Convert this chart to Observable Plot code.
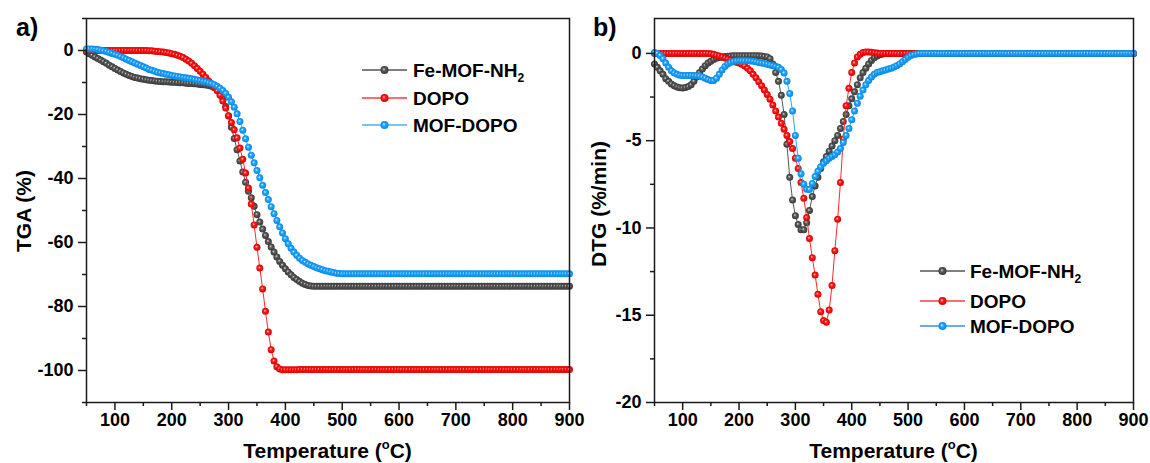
<!DOCTYPE html>
<html><head><meta charset="utf-8">
<script src="https://cdn.jsdelivr.net/npm/d3@7"></script>
<script src="https://cdn.jsdelivr.net/npm/@observablehq/plot@0.6"></script>
<style>
body{margin:0;background:#fff;}
#wrap{position:relative;width:1150px;height:463px;overflow:hidden;font-family:"Liberation Sans",Arial,sans-serif;background:#fff;}
#left,#right{position:absolute;top:0;overflow:visible;}
#left{left:0;} #right{left:580px;}
#left svg,#right svg{overflow:visible;}
</style></head><body>
<svg width="0" height="0" style="position:absolute">
<defs>
<radialGradient id="gGray" cx="0.5" cy="0.5" r="0.5" fx="0.4" fy="0.38">
<stop offset="0" stop-color="#d8d8d8"/><stop offset="0.4" stop-color="#5c5c5c"/><stop offset="1" stop-color="#383838"/>
</radialGradient>
<radialGradient id="gRed" cx="0.5" cy="0.5" r="0.5" fx="0.4" fy="0.38">
<stop offset="0" stop-color="#ffd0d0"/><stop offset="0.4" stop-color="#ff1c1c"/><stop offset="1" stop-color="#d80000"/>
</radialGradient>
<radialGradient id="gBlue" cx="0.5" cy="0.5" r="0.5" fx="0.4" fy="0.38">
<stop offset="0" stop-color="#dff3ff"/><stop offset="0.4" stop-color="#22a8ff"/><stop offset="1" stop-color="#0a86e0"/>
</radialGradient>
</defs>
</svg>
<div id="wrap"><div id="left"></div><div id="right"></div></div>
<script>
const seriesNames = ["Fe-MOF-NH2", "DOPO", "MOF-DOPO"];

const temperature = [
50,55,60,65,70,75,80,85,90,95,
100,105,110,115,120,125,130,135,140,145,
150,155,160,165,170,175,180,185,190,195,
200,205,210,215,220,225,230,235,240,245,
250,255,260,265,270,275,280,285,290,295,
300,305,310,315,320,325,330,335,340,345,
350,355,360,365,370,375,380,385,390,395,
400,405,410,415,420,425,430,435,440,445,
450,455,460,465,470,475,480,485,490,495,
500,505,510,515,520,525,530,535,540,545,
550,555,560,565,570,575,580,585,590,595,
600,605,610,615,620,625,630,635,640,645,
650,655,660,665,670,675,680,685,690,695,
700,705,710,715,720,725,730,735,740,745,
750,755,760,765,770,775,780,785,790,795,
800,805,810,815,820,825,830,835,840,845,
850,855,860,865,870,875,880,885,890,895,
900];

const tgaFeMOF = [
-0.5,-1.0,-1.5,-2.0,-2.5,-3.0,-3.5,-4.0,-4.6,-5.1,
-5.6,-6.1,-6.6,-7.0,-7.4,-7.8,-8.1,-8.4,-8.6,-8.8,
-9.0,-9.15,-9.3,-9.4,-9.5,-9.6,-9.7,-9.75,-9.8,-9.85,
-9.9,-9.95,-10.0,-10.05,-10.1,-10.2,-10.3,-10.35,-10.4,-10.5,
-10.6,-10.7,-10.8,-10.95,-11.2,-11.6,-12.2,-13.3,-15.0,-17.5,
-20.5,-24.0,-27.5,-31.0,-34.5,-38.0,-41.2,-44.0,-46.0,-48.7,
-51.3,-53.6,-55.8,-57.8,-59.7,-61.4,-63.0,-64.5,-65.9,-67.1,
-68.2,-69.2,-70.1,-70.9,-71.6,-72.2,-72.7,-73.1,-73.4,-73.6,
-73.7,-73.7,-73.7,-73.7,-73.7,-73.7,-73.7,-73.7,-73.7,-73.7,
-73.7,-73.7,-73.7,-73.7,-73.7,-73.7,-73.7,-73.7,-73.7,-73.7,
-73.7,-73.7,-73.7,-73.7,-73.7,-73.7,-73.7,-73.7,-73.7,-73.7,
-73.7,-73.7,-73.7,-73.7,-73.7,-73.7,-73.7,-73.7,-73.7,-73.7,
-73.7,-73.7,-73.7,-73.7,-73.7,-73.7,-73.7,-73.7,-73.7,-73.7,
-73.7,-73.7,-73.7,-73.7,-73.7,-73.7,-73.7,-73.7,-73.7,-73.7,
-73.7,-73.7,-73.7,-73.7,-73.7,-73.7,-73.7,-73.7,-73.7,-73.7,
-73.7,-73.7,-73.7,-73.7,-73.7,-73.7,-73.7,-73.7,-73.7,-73.7,
-73.7,-73.7,-73.7,-73.7,-73.7,-73.7,-73.7,-73.7,-73.7,-73.7,
-73.7];

const tgaDOPO = [
0,0,0,0,0,0,0,0,0,0,
0,0,0,0,0,0,0,0,0,0,
0,0,-0.05,-0.1,-0.2,-0.3,-0.4,-0.5,-0.6,-0.8,
-1.0,-1.2,-1.5,-1.8,-2.2,-2.7,-3.3,-4.0,-4.8,-5.6,
-6.5,-7.4,-8.4,-9.5,-10.6,-11.6,-12.6,-14.0,-15.8,-18.0,
-20.4,-22.5,-24.8,-27.3,-30.5,-34.0,-38.3,-43.0,-48.0,-54.5,
-61.5,-68.0,-74.5,-81.5,-88.0,-93.5,-97.0,-98.8,-99.5,-99.8,
-99.8,-99.8,-99.8,-99.8,-99.8,-99.7,-99.7,-99.7,-99.7,-99.7,
-99.7,-99.7,-99.7,-99.7,-99.7,-99.7,-99.7,-99.7,-99.7,-99.7,
-99.7,-99.7,-99.7,-99.7,-99.7,-99.7,-99.7,-99.7,-99.7,-99.7,
-99.7,-99.7,-99.7,-99.7,-99.7,-99.7,-99.7,-99.7,-99.7,-99.7,
-99.7,-99.7,-99.7,-99.7,-99.7,-99.7,-99.7,-99.7,-99.7,-99.7,
-99.7,-99.7,-99.7,-99.7,-99.7,-99.7,-99.7,-99.7,-99.7,-99.7,
-99.7,-99.7,-99.7,-99.7,-99.7,-99.7,-99.7,-99.7,-99.7,-99.7,
-99.7,-99.7,-99.7,-99.7,-99.7,-99.7,-99.7,-99.7,-99.7,-99.7,
-99.7,-99.7,-99.7,-99.7,-99.7,-99.7,-99.7,-99.7,-99.7,-99.7,
-99.7,-99.7,-99.7,-99.7,-99.7,-99.7,-99.7,-99.7,-99.7,-99.7,
-99.7];

const tgaMOFDOPO = [
0.5,0.5,0.5,0.4,0.3,0.1,-0.1,-0.3,-0.6,-0.9,
-1.2,-1.5,-1.9,-2.3,-2.7,-3.1,-3.5,-3.9,-4.3,-4.7,
-5.1,-5.5,-5.9,-6.2,-6.5,-6.8,-7.0,-7.2,-7.4,-7.6,
-7.8,-7.95,-8.1,-8.25,-8.4,-8.55,-8.7,-8.85,-9.0,-9.2,
-9.4,-9.6,-9.8,-10.05,-10.35,-10.7,-11.2,-11.8,-12.5,-13.4,
-14.6,-16.0,-17.7,-19.8,-22.2,-24.9,-27.6,-30.2,-32.7,-35.1,
-37.5,-39.8,-42.1,-44.4,-46.6,-48.8,-51.0,-53.1,-55.1,-57.0,
-58.8,-60.4,-61.8,-63.0,-64.0,-64.9,-65.6,-66.2,-66.7,-67.1,
-67.5,-67.9,-68.2,-68.5,-68.8,-69.0,-69.2,-69.4,-69.6,-69.7,
-69.8,-69.8,-69.8,-69.8,-69.8,-69.8,-69.8,-69.8,-69.8,-69.8,
-69.8,-69.8,-69.8,-69.8,-69.8,-69.8,-69.8,-69.8,-69.8,-69.8,
-69.8,-69.8,-69.8,-69.8,-69.8,-69.8,-69.8,-69.8,-69.8,-69.8,
-69.8,-69.8,-69.8,-69.8,-69.8,-69.8,-69.8,-69.8,-69.8,-69.8,
-69.8,-69.8,-69.8,-69.8,-69.8,-69.8,-69.8,-69.8,-69.8,-69.8,
-69.8,-69.8,-69.8,-69.8,-69.8,-69.8,-69.8,-69.8,-69.8,-69.8,
-69.8,-69.8,-69.8,-69.8,-69.8,-69.8,-69.8,-69.8,-69.8,-69.8,
-69.8,-69.8,-69.8,-69.8,-69.8,-69.8,-69.8,-69.8,-69.8,-69.8,
-69.8];

const dtgFeMOF = [
-0.6,-0.8,-1.0,-1.2,-1.45,-1.6,-1.75,-1.85,-1.92,-1.97,
-1.98,-1.95,-1.9,-1.8,-1.6,-1.35,-1.1,-0.9,-0.7,-0.55,
-0.45,-0.35,-0.28,-0.23,-0.2,-0.18,-0.16,-0.15,-0.14,-0.13,
-0.13,-0.13,-0.13,-0.13,-0.13,-0.13,-0.13,-0.14,-0.15,-0.17,
-0.2,-0.3,-0.6,-1.1,-1.6,-2.4,-3.5,-5.2,-7.1,-8.4,
-9.3,-9.8,-10.1,-10.1,-9.7,-9.0,-8.2,-7.6,-7.1,-6.6,
-6.2,-5.9,-5.6,-5.3,-5.0,-4.7,-4.3,-3.9,-3.5,-3.0,
-2.6,-2.2,-1.8,-1.4,-1.1,-0.85,-0.6,-0.4,-0.25,-0.15,
-0.07,-0.03,0,0,0,0,0,0,0,0,
0,0,0,0,0,0,0,0,0,0,
0,0,0,0,0,0,0,0,0,0,
0,0,0,0,0,0,0,0,0,0,
0,0,0,0,0,0,0,0,0,0,
0,0,0,0,0,0,0,0,0,0,
0,0,0,0,0,0,0,0,0,0,
0,0,0,0,0,0,0,0,0,0,
0,0,0,0,0,0,0,0,0,0,
0];

const dtgDOPO = [
0,0,0,0,0,0,0,0,0,0,
0,0,0,0,0,0,0,0,0,0,
-0.02,-0.05,-0.1,-0.15,-0.2,-0.26,-0.32,-0.38,-0.44,-0.5,
-0.55,-0.62,-0.72,-0.85,-1.0,-1.2,-1.4,-1.62,-1.85,-2.1,
-2.35,-2.62,-2.95,-3.3,-3.65,-4.0,-4.35,-4.7,-5.05,-5.45,
-6.0,-6.6,-7.4,-8.3,-9.4,-10.6,-11.7,-12.7,-13.8,-14.8,
-15.3,-15.4,-14.7,-13.3,-11.3,-9.5,-7.4,-4.9,-3.0,-2.0,
-1.1,-0.55,-0.2,-0.05,0.05,0.08,0.08,0.06,0.04,0.02,
0,0,0,0,0,0,0,0,0,0,
0,0,0,0,0,0,0,0,0,0,
0,0,0,0,0,0,0,0,0,0,
0,0,0,0,0,0,0,0,0,0,
0,0,0,0,0,0,0,0,0,0,
0,0,0,0,0,0,0,0,0,0,
0,0,0,0,0,0,0,0,0,0,
0,0,0,0,0,0,0,0,0,0,
0,0,0,0,0,0,0,0,0,0,
0];

const dtgMOFDOPO = [
0.05,0.0,-0.12,-0.3,-0.55,-0.8,-1.0,-1.12,-1.2,-1.25,
-1.27,-1.27,-1.27,-1.27,-1.27,-1.28,-1.3,-1.35,-1.42,-1.5,
-1.55,-1.55,-1.42,-1.2,-0.95,-0.75,-0.6,-0.52,-0.46,-0.43,
-0.42,-0.42,-0.42,-0.42,-0.43,-0.45,-0.48,-0.52,-0.55,-0.58,
-0.62,-0.66,-0.7,-0.74,-0.8,-0.92,-1.12,-1.6,-2.3,-3.3,
-4.7,-6.0,-6.9,-7.5,-7.78,-7.8,-7.45,-7.05,-6.75,-6.5,
-6.3,-6.15,-6.0,-5.9,-5.8,-5.65,-5.45,-5.1,-4.7,-4.3,
-3.8,-3.3,-2.85,-2.45,-2.1,-1.8,-1.55,-1.35,-1.2,-1.1,
-1.05,-1.0,-0.95,-0.9,-0.85,-0.78,-0.7,-0.6,-0.48,-0.35,
-0.22,-0.12,-0.06,-0.03,0,0,0,0,0,0,
0,0,0,0,0,0,0,0,0,0,
0,0,0,0,0,0,0,0,0,0,
0,0,0,0,0,0,0,0,0,0,
0,0,0,0,0,0,0,0,0,0,
0,0,0,0,0,0,0,0,0,0,
0,0,0,0,0,0,0,0,0,0,
0,0,0,0,0,0,0,0,0,0,
0];

const xTicks = [100,200,300,400,500,600,700,800,900];
const xMinorTicks = [50,150,250,350,450,550,650,750,850];
const tgaTicks = [0,-20,-40,-60,-80,-100];
const tgaMinorTicks = [10,-10,-30,-50,-70,-90,-110];
const dtgTicks = [0,-5,-10,-15,-20];
const dtgMinorTicks = [-2.5,-7.5,-12.5,-17.5];

const lineColors = ["#555555", "#ff2a2a", "#2aa6ff"];
const dotFills = ["url(#gGray)", "url(#gRed)", "url(#gBlue)"];
const FONT = '"Liberation Sans", Arial, sans-serif';

function rows(values) {
  const n = Math.min(temperature.length, values.length);
  const out = [];
  for (let i = 0; i < n; i++) out.push({T: temperature[i], v: values[i]});
  return out;
}

function makePanel(opts) {
  const marks = [];
  opts.series.forEach((vals, i) => {
    const d = rows(vals);
    marks.push(Plot.line(d, {x: "T", y: "v", stroke: lineColors[i], strokeWidth: 1}));
    marks.push(Plot.dot(d, {x: "T", y: "v", r: 3.5, fill: dotFills[i], stroke: "none"}));
  });
  marks.push(Plot.frame({stroke: "#1a1a1a", strokeWidth: 1.5}));
  // tick marks only
  marks.push(Plot.axisX({ticks: xTicks, tickSize: 8, fill: "none", label: null, stroke: "#1a1a1a", strokeWidth: 1.5}));
  marks.push(Plot.axisX({ticks: xMinorTicks, tickSize: 4, fill: "none", label: null, stroke: "#1a1a1a", strokeWidth: 1.5}));
  marks.push(Plot.axisY({ticks: opts.yTicks, tickSize: 8, fill: "none", label: null, stroke: "#1a1a1a", strokeWidth: 1.5}));
  marks.push(Plot.axisY({ticks: opts.yMinor, tickSize: 4, fill: "none", label: null, stroke: "#1a1a1a", strokeWidth: 1.5}));
  // tick labels, bold
  marks.push(Plot.text(xTicks, {x: d => d, frameAnchor: "bottom", dy: 23, text: d => String(d),
    fontSize: 18, fontWeight: "bold", fontFamily: FONT, fill: "#000", textAnchor: "middle"}));
  marks.push(Plot.text(opts.yTicks, {y: d => d, frameAnchor: "left", dx: -13, text: d => String(d),
    fontSize: 18, fontWeight: "bold", fontFamily: FONT, fill: "#000", textAnchor: "end"}));
  return Plot.plot({
    width: opts.width, height: 463,
    marginLeft: opts.ml, marginRight: opts.mr, marginTop: 18, marginBottom: 61,
    x: {domain: [50, 900]},
    y: {domain: opts.yDomain},
    style: {fontFamily: FONT, background: "transparent", color: "#000", overflow: "visible"},
    marks
  });
}

function decorate(svg, o) {
  const s = d3.select(svg);
  const g = s.append("g").attr("font-family", FONT).attr("font-weight", "bold").attr("fill", "#000").attr("text-anchor", "start");
  g.append("text").attr("x", o.tagX).attr("y", 36).attr("font-size", 25).attr("text-anchor", "start").text(o.tag);
  g.append("text").attr("transform", `translate(${o.ytX},${o.ytY}) rotate(-90)`)
    .attr("text-anchor", "middle").attr("dominant-baseline", "central").attr("font-size", 21).text(o.yTitle);
  const xt = g.append("text").attr("x", o.xtX).attr("y", 458).attr("text-anchor", "middle").attr("font-size", 21);
  xt.append("tspan").text("Temperature (");
  xt.append("tspan").attr("font-size", 13).attr("dy", -9).text("o");
  xt.append("tspan").attr("dy", 9).text("C)");
  const lg = g.append("g");
  seriesNames.forEach((name, i) => {
    const y = o.legRows[i];
    lg.append("line").attr("x1", o.legX1).attr("x2", o.legX2).attr("y1", y).attr("y2", y)
      .attr("stroke", o.legColors[i]).attr("stroke-width", 1.5);
    lg.append("circle").attr("cx", (o.legX1 + o.legX2) / 2).attr("cy", y).attr("r", 4).attr("fill", dotFills[i]);
    const t = lg.append("text").attr("x", o.legTX).attr("y", y).attr("dy", "0.36em").attr("font-size", 19).attr("text-anchor", "start");
    if (name === "Fe-MOF-NH2") {
      t.append("tspan").text("Fe-MOF-NH");
      t.append("tspan").attr("font-size", 12).attr("dy", 5).text("2");
    } else t.text(name);
  });
}

const left = makePanel({width: 580, ml: 86, mr: 11, yDomain: [-110, 10], yTicks: tgaTicks, yMinor: tgaMinorTicks,
  series: [tgaFeMOF, tgaDOPO, tgaMOFDOPO]});
decorate(left, {tag: "a)", tagX: 16, ytX: 23, ytY: 211, yTitle: "TGA (%)", xtX: 327.5,
  legRows: [70, 98, 125], legX1: 362, legX2: 407, legTX: 413, legColors: ["#555555", "#ff3b3b", "#4ab0f5"]});
document.getElementById("left").appendChild(left);

const right = makePanel({width: 570, ml: 74, mr: 17, yDomain: [-20, 2], yTicks: dtgTicks, yMinor: dtgMinorTicks,
  series: [dtgFeMOF, dtgDOPO, dtgMOFDOPO]});
decorate(right, {tag: "b)", tagX: 13, ytX: 18, ytY: 204, yTitle: "DTG (%/min)", xtX: 313.5,
  legRows: [271, 301, 326], legX1: 340, legX2: 385, legTX: 390, legColors: ["#555555", "#ff3b3b", "#3a88f5"]});
document.getElementById("right").appendChild(right);
</script>
</body></html>
